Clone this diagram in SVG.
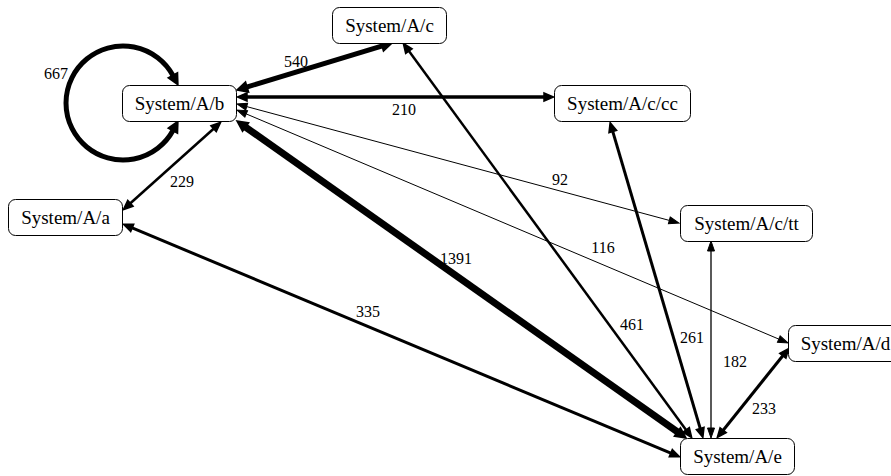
<svg xmlns="http://www.w3.org/2000/svg" width="891" height="476" viewBox="0 0 891 476">
<style>
.box{fill:#fff;stroke:#000;stroke-width:1}
.nt{font-family:"Liberation Serif","Times New Roman",serif;font-size:19px;fill:#000;text-anchor:middle}
.lb{font-family:"Liberation Serif","Times New Roman",serif;font-size:16px;fill:#000;text-anchor:middle}
.e{fill:none;stroke:#000;stroke-linecap:butt}
.ah{fill:#000;stroke:#000;stroke-linejoin:miter}
</style>
<defs>
<marker id="a1" markerUnits="userSpaceOnUse" markerWidth="12" markerHeight="10" viewBox="0 -5 12 10" refX="0" refY="0" orient="auto-start-reverse" overflow="visible"><path class="ah" style="stroke-width:1" d="M0,-3.5L10,0L0,3.5Z"/></marker>
<marker id="a2" markerUnits="userSpaceOnUse" markerWidth="12" markerHeight="10" viewBox="0 -5 12 10" refX="0" refY="0" orient="auto-start-reverse" overflow="visible"><path class="ah" style="stroke-width:1.5" d="M0,-4L9.5,0L0,4Z"/></marker>
<marker id="a3" markerUnits="userSpaceOnUse" markerWidth="12" markerHeight="10" viewBox="0 -5 12 10" refX="0" refY="0" orient="auto-start-reverse" overflow="visible"><path class="ah" style="stroke-width:2.5" d="M0,-4.5L9,0L0,4.5Z"/></marker>
</defs>
<g id="connectors">
<path class="e" style="stroke-width:5" marker-start="url(#a3)" marker-end="url(#a3)" d="M173.1,130.2A57,57 0 1 1 173.1,75.8"/>
<path class="e" style="stroke-width:5" marker-start="url(#a3)" marker-end="url(#a3)" d="M246.6,87.1L382.4,45.9"/>
<path class="e" style="stroke-width:3.5" marker-start="url(#a2)" marker-end="url(#a2)" d="M247,97L544,97"/>
<path class="e" style="stroke-width:1" marker-start="url(#a1)" marker-end="url(#a1)" d="M246.7,106.6L669.3,220.4"/>
<path class="e" style="stroke-width:1" marker-start="url(#a1)" marker-end="url(#a1)" d="M246.2,113.9L778.8,339.1"/>
<path class="e" style="stroke-width:7" marker-start="url(#a3)" marker-end="url(#a3)" d="M245.2,126.8L677.8,432.2"/>
<path class="e" style="stroke-width:2.5" marker-start="url(#a2)" marker-end="url(#a2)" d="M130.4,203.3L213.6,128.7"/>
<path class="e" style="stroke-width:3" marker-start="url(#a2)" marker-end="url(#a2)" d="M132.2,227.9L670.8,453.1"/>
<path class="e" style="stroke-width:2.5" marker-start="url(#a2)" marker-end="url(#a2)" d="M408.9,51.1L686.1,429.9"/>
<path class="e" style="stroke-width:3" marker-start="url(#a2)" marker-end="url(#a2)" d="M612.8,131.6L700.2,428.4"/>
<path class="e" style="stroke-width:1.3" marker-start="url(#a1)" marker-end="url(#a1)" d="M711,251L711,428"/>
<path class="e" style="stroke-width:3" marker-start="url(#a2)" marker-end="url(#a2)" d="M782.8,355.8L723.2,430.2"/>
<text class="lb" x="56" y="79">667</text>
<text class="lb" x="296" y="67">540</text>
<text class="lb" x="404" y="115">210</text>
<text class="lb" x="560" y="185">92</text>
<text class="lb" x="603" y="253">116</text>
<text class="lb" x="456" y="264">1391</text>
<text class="lb" x="182" y="187">229</text>
<text class="lb" x="368" y="317">335</text>
<text class="lb" x="632" y="330">461</text>
<text class="lb" x="692" y="343">261</text>
<text class="lb" x="735" y="367">182</text>
<text class="lb" x="764" y="414">233</text>
</g>
<g id="node-b"><rect class="box" x="122.5" y="85.5" width="114" height="36" rx="7"/><text class="nt" x="179.5" y="110">System/A/b</text></g>
<g id="node-a"><rect class="box" x="8.5" y="199.5" width="114" height="36" rx="7"/><text class="nt" x="65.5" y="224">System/A/a</text></g>
<g id="node-c"><rect class="box" x="332.5" y="7.5" width="114" height="36" rx="7"/><text class="nt" x="389.5" y="32">System/A/c</text></g>
<g id="node-cc"><rect class="box" x="554.5" y="85.5" width="136" height="36" rx="7"/><text class="nt" x="622.5" y="110">System/A/c/cc</text></g>
<g id="node-tt"><rect class="box" x="680.5" y="205.5" width="132" height="36" rx="7"/><text class="nt" x="746.5" y="230">System/A/c/tt</text></g>
<g id="node-d"><rect class="box" x="788.5" y="325.5" width="114" height="36" rx="7"/><text class="nt" x="845.5" y="350">System/A/d</text></g>
<g id="node-e"><rect class="box" x="680.5" y="438.5" width="114" height="36" rx="7"/><text class="nt" x="737.5" y="463">System/A/e</text></g>
</svg>
